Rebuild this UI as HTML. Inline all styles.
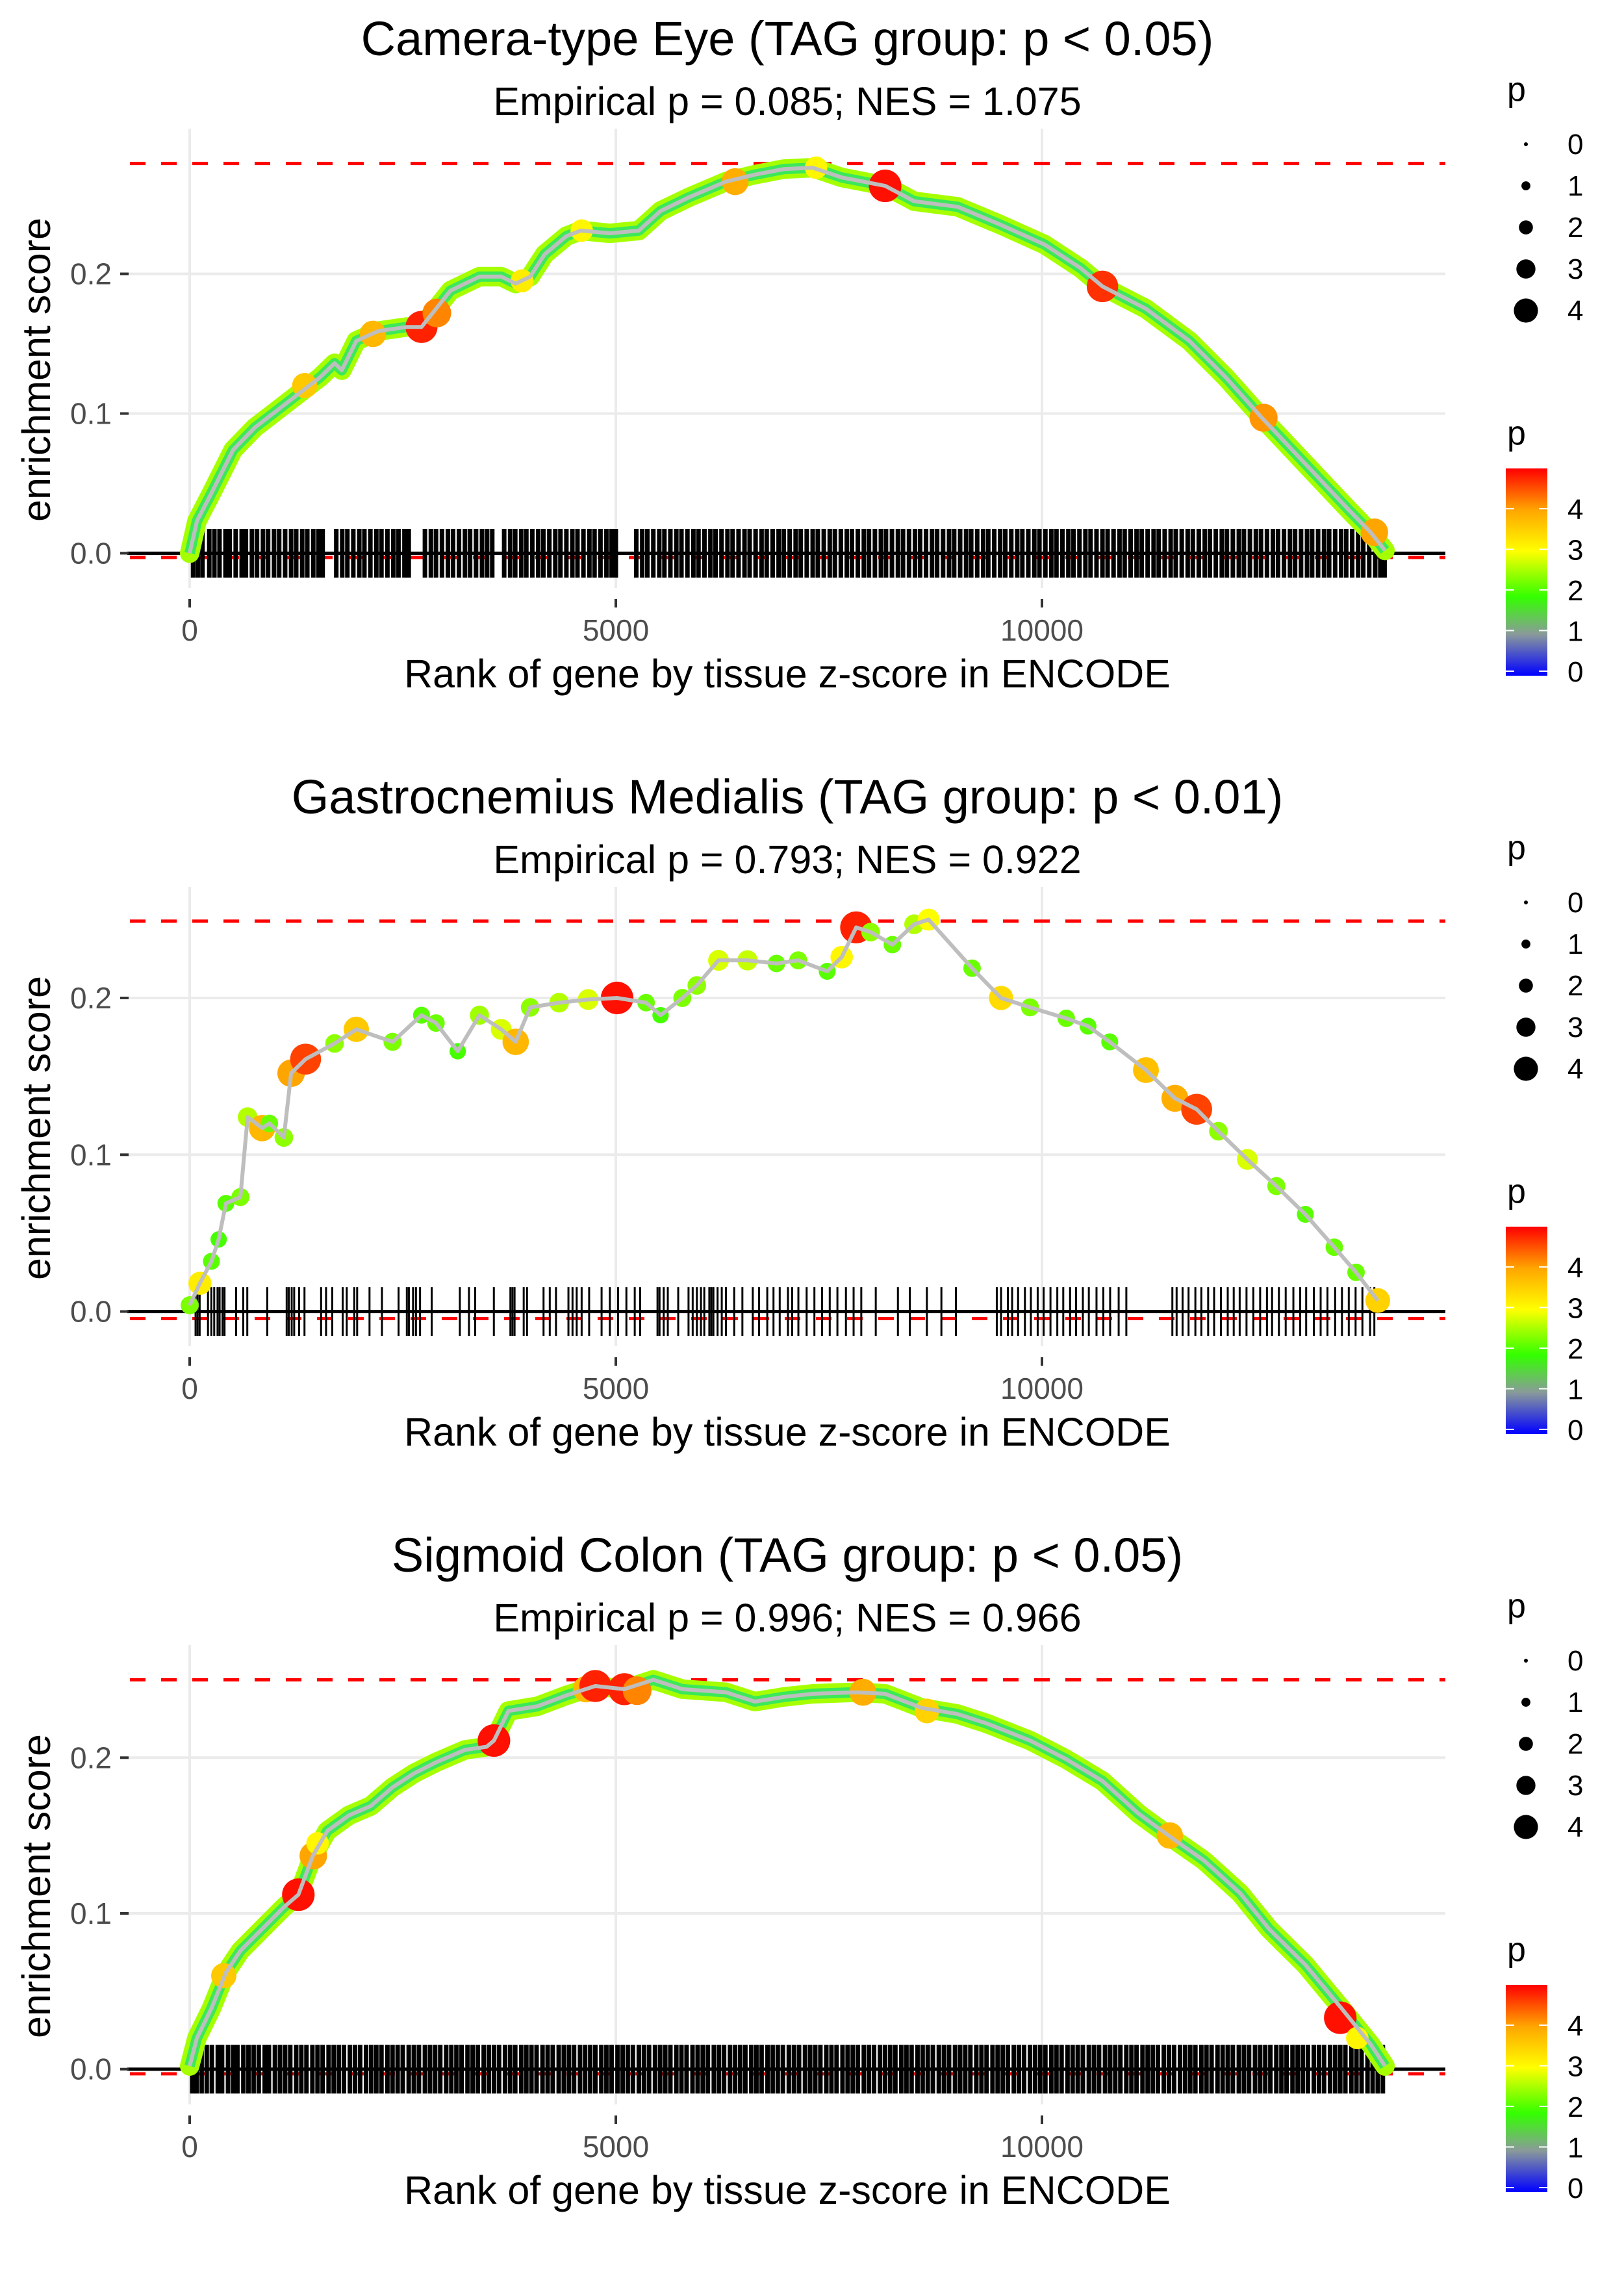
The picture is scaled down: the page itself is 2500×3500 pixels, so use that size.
<!DOCTYPE html>
<html><head><meta charset="utf-8"><title>Enrichment plots</title>
<style>html,body{margin:0;padding:0;background:#fff}svg{display:block}text{font-family:"Liberation Sans",sans-serif}</style>
</head><body>
<svg id="chart" xmlns="http://www.w3.org/2000/svg" width="2500" height="3500" viewBox="0 0 2500 3500">
<rect x="0" y="0" width="2500" height="3500" fill="#fff"/>
</svg>
<script>
// ---- shared axis data ----
const xTicks = [0, 5000, 10000];
const yTicks = [0, 0.1, 0.2];
const yTickLabels = ["0.0", "0.1", "0.2"];
const legendP = [0, 1, 2, 3, 4];

// ---- panel titles ----
const titles = ["Camera-type Eye (TAG group: p < 0.05)", "Gastrocnemius Medialis (TAG group: p < 0.01)", "Sigmoid Colon (TAG group: p < 0.05)"];
const subtitles = ["Empirical p = 0.085; NES = 1.075", "Empirical p = 0.793; NES = 0.922", "Empirical p = 0.996; NES = 0.966"];
const esMax = [0.279, 0.249, 0.250];
const esMin = [-0.003, -0.0045, -0.003];

// ---- panel 1 ----
const p1Rank = [0,85,255,510,765,1020,1275,1530,1700,1785,1955,2210,2550,2720,2890,3060,3400,3655,3825,3995,4165,4420,4590,4930,5270,5525,5865,6290,6630,6970,7310,7650,7990,8160,8500,9010,9520,10030,10455,10710,11220,11730,12155,12580,13090,13600,13855,14025];
const p1ES = [0,0.023,0.043,0.074,0.09,0.102,0.114,0.126,0.136,0.131,0.152,0.159,0.162,0.162,0.175,0.188,0.198,0.198,0.193,0.198,0.214,0.227,0.231,0.229,0.231,0.245,0.255,0.266,0.271,0.275,0.276,0.269,0.265,0.263,0.252,0.248,0.235,0.221,0.204,0.191,0.175,0.152,0.126,0.097,0.064,0.031,0.015,0.002];
const p1HiRank = [1350,2150,2720,2900,3900,4600,6400,7350,8160,10710,12600,13900];
const p1HiES = [0.12,0.157,0.162,0.172,0.195,0.231,0.266,0.276,0.263,0.191,0.097,0.015];
const p1HiP = [3.6,3.8,4.8,4.2,3.2,3.1,3.9,3.1,4.9,4.7,4.1,4.0];
const p1Rug = [40,95,150,230,290,350,420,470,540,610,660,730,790,860,920,990,1050,1120,1190,1250,1320,1380,1450,1510,1560,1720,1790,1850,1920,1990,2050,2120,2190,2250,2320,2390,2450,2520,2570,2760,2830,2890,2960,3030,3090,3160,3230,3290,3360,3430,3490,3550,3690,3760,3820,3890,3950,4020,4090,4150,4220,4290,4350,4420,4490,4550,4620,4690,4750,4820,4890,4950,5000,5240,5310,5370,5440,5510,5570,5640,5710,5770,5840,5910,5970,6040,6110,6170,6240,6310,6370,6440,6510,6570,6640,6710,6770,6840,6910,6970,7040,7110,7170,7240,7310,7370,7440,7510,7570,7640,7710,7770,7840,7910,7970,8040,8110,8170,8240,8310,8370,8440,8510,8570,8640,8710,8770,8840,8910,8970,9040,9110,9170,9240,9310,9370,9440,9510,9570,9640,9710,9770,9840,9910,9970,10040,10110,10170,10240,10310,10370,10440,10510,10570,10640,10710,10770,10840,10910,10970,11040,11110,11170,11240,11310,11370,11440,11510,11570,11640,11710,11770,11840,11910,11970,12040,12110,12170,12240,12310,12370,12440,12510,12570,12640,12710,12770,12840,12910,12970,13040,13110,13170,13240,13310,13370,13440,13510,13570,13640,13710,13770,13840,13910,13970,14020];

// ---- panel 2 ----
const p2Rank = [0,120,255,340,425,595,680,850,935,1105,1190,1360,1700,1955,2380,2720,2890,3145,3400,3655,3825,3995,4335,4675,5015,5355,5525,5780,5950,6205,6545,6885,7140,7480,7650,7820,7990,8245,8500,8670,9180,9520,9860,10285,10540,10795,11220,11560,11815,12070,12410,12750,13090,13430,13685,13940];
const p2ES = [0.004,0.018,0.032,0.046,0.069,0.073,0.124,0.117,0.12,0.111,0.152,0.161,0.171,0.18,0.172,0.189,0.184,0.166,0.189,0.18,0.172,0.194,0.197,0.199,0.2,0.197,0.189,0.2,0.208,0.224,0.224,0.222,0.224,0.217,0.226,0.245,0.242,0.234,0.247,0.25,0.219,0.2,0.194,0.187,0.182,0.172,0.154,0.136,0.129,0.115,0.097,0.08,0.062,0.041,0.025,0.007];
const p2P = [2.3,3.2,2.1,2.0,2.1,2.3,2.6,3.8,2.2,2.4,4.0,4.6,2.4,3.6,2.3,2.1,2.2,2.0,2.5,2.8,3.8,2.4,2.6,2.8,4.9,2.2,2.0,2.3,2.4,2.8,2.7,2.2,2.3,2.1,3.1,4.8,2.4,2.2,2.6,3.0,2.2,3.4,2.3,2.2,2.1,2.1,3.7,3.9,4.6,2.4,2.8,2.3,2.1,2.2,2.2,3.5];
const p2Rug = [69,93,117,215,254,288,327,351,385,409,545,628,676,910,1138,1163,1197,1226,1284,1347,1542,1600,1673,1795,1843,1931,1965,2110,2256,2451,2548,2572,2621,2655,2703,2840,3170,3277,3350,3569,3763,3787,3812,3919,3958,4152,4225,4298,4444,4492,4541,4599,4687,4833,4930,5027,5124,5222,5285,5489,5513,5562,5610,5732,5853,5902,5951,5999,6038,6097,6121,6145,6194,6243,6292,6389,6485,6607,6680,6777,6850,6923,7020,7069,7142,7239,7330,7420,7510,7600,7700,7790,7880,8050,8310,8450,8650,8820,8990,9470,9520,9600,9650,9720,9800,9870,9950,10020,10100,10180,10250,10330,10400,10480,10550,10640,10720,10800,10900,10990,11530,11580,11650,11720,11800,11870,11950,12020,12100,12180,12250,12320,12400,12480,12560,12640,12700,12780,12860,12950,13030,13100,13190,13270,13350,13440,13520,13600,13680,13760,13850,13900];

// ---- panel 3 ----
const p3Rank = [0,85,255,425,595,850,1105,1275,1445,1615,1870,2125,2380,2635,2890,3230,3485,3570,3740,4080,4420,4760,5100,5440,5780,6290,6630,6970,7310,7820,8160,8585,9010,9350,9860,10285,10710,11135,11560,11900,12325,12665,13090,13515,13855,14025];
const p3ES = [0.002,0.02,0.039,0.062,0.076,0.09,0.104,0.112,0.137,0.153,0.163,0.169,0.181,0.19,0.197,0.205,0.207,0.211,0.23,0.233,0.24,0.246,0.244,0.25,0.244,0.242,0.236,0.239,0.241,0.242,0.241,0.232,0.228,0.222,0.211,0.199,0.185,0.164,0.147,0.134,0.113,0.09,0.067,0.039,0.016,0.002];
const p3HiRank = [400,1275,1450,1500,3570,4650,4760,5100,5250,7900,8650,11500,13500,13700];
const p3HiES = [0.06,0.112,0.137,0.145,0.211,0.244,0.246,0.244,0.243,0.242,0.23,0.15,0.033,0.02];
const p3HiP = [3.6,4.9,4.0,3.1,4.9,3.8,4.8,4.8,4.2,3.9,3.5,3.8,4.9,3.1];
const p3Rug = [30,80,140,200,260,330,380,450,510,560,630,690,750,810,880,930,1000,1060,1120,1180,1250,1310,1370,1440,1500,1560,1630,1690,1750,1810,1880,1940,2000,2070,2130,2190,2250,2320,2380,2440,2500,2570,2630,2690,2760,2820,2880,2940,3010,3070,3130,3190,3260,3320,3380,3450,3510,3570,3630,3700,3760,3820,3890,3950,4010,4070,4140,4200,4260,4330,4390,4450,4510,4580,4640,4700,4760,4830,4890,4950,5020,5080,5140,5200,5270,5330,5390,5460,5520,5580,5640,5710,5770,5830,5900,5960,6020,6080,6150,6210,6270,6340,6400,6460,6520,6590,6650,6710,6780,6840,6900,6960,7030,7090,7150,7220,7280,7340,7400,7470,7530,7590,7660,7720,7780,7840,7910,7970,8030,8100,8160,8220,8280,8350,8410,8470,8540,8600,8660,8720,8790,8850,8910,8980,9040,9100,9160,9230,9290,9350,9420,9480,9540,9600,9670,9730,9790,9860,9920,9980,10040,10110,10170,10230,10300,10360,10420,10480,10550,10610,10670,10740,10800,10860,10920,10990,11050,11110,11180,11240,11300,11360,11430,11490,11550,11620,11680,11740,11800,11870,11930,11990,12060,12120,12180,12240,12310,12370,12430,12500,12560,12620,12680,12750,12810,12870,12940,13000,13060,13120,13190,13250,13310,13380,13440,13500,13560,13630,13690,13750,13820,13880,13940,14000];

// ---- layout (not data) ----
const NS = "http://www.w3.org/2000/svg";
const svg = document.getElementById("chart");
const panelLeft = 196, panelRight = 2225;
const zeroY = [851.5, 2018.6, 3184.7];
const per01 = [215, 241.3, 239.7];
const offY = [0, 1167, 2334];
function xScale(r) { return 292 + r * 0.1312; }
function yScale(i, v) { return zeroY[i] - v / 0.1 * per01[i]; }
function rScale(p) { return 3 + 3.9 * p; }
function rPlot(p) { return 4 + 4.3 * p; }
const stops = [[0,[0,0,255]],[1.0,[138,154,154]],[1.9,[51,255,0]],[2.5,[160,255,0]],[3.0,[255,255,0]],[4.0,[255,165,0]],[5.0,[255,0,0]]];
function pColor(p) {
  if (p <= stops[0][0]) return "rgb(0,0,255)";
  for (let k = 1; k < stops.length; k++) {
    if (p <= stops[k][0]) {
      const a = stops[k-1], b = stops[k], t = (p - a[0]) / (b[0] - a[0]);
      const c = a[1].map((v, j) => Math.round(v + (b[1][j] - v) * t));
      return "rgb(" + c.join(",") + ")";
    }
  }
  return "rgb(255,0,0)";
}
function mk(tag, attrs, parent) {
  const el = document.createElementNS(NS, tag);
  for (const k in attrs) el.setAttribute(k, attrs[k]);
  (parent || svg).appendChild(el);
  return el;
}
function txt(s, attrs, parent) { const t = mk("text", attrs, parent); t.textContent = s; return t; }

const curves = [
  {rank: p1Rank, es: p1ES, band: true, hiR: p1HiRank, hiE: p1HiES, hiP: p1HiP, rug: p1Rug},
  {rank: p2Rank, es: p2ES, band: false, pts: p2P, rug: p2Rug},
  {rank: p3Rank, es: p3ES, band: true, hiR: p3HiRank, hiE: p3HiES, hiP: p3HiP, rug: p3Rug}
];

for (let i = 0; i < 3; i++) {
  const o = offY[i];
  const g = mk("g", {});
  
  
  const top = 198 + o, bot = 905 + o;
  xTicks.forEach(v => {
    const l = mk("line", {x1: xScale(v), x2: xScale(v), y1: top, y2: bot, stroke: "#ebebeb", "stroke-width": 4}, g);
    
    
  });
  yTicks.forEach(v => {
    const l = mk("line", {x1: panelLeft, x2: panelRight, y1: yScale(i, v), y2: yScale(i, v), stroke: "#ebebeb", "stroke-width": 4}, g);
    
    
  });
  [esMax[i], esMin[i]].forEach((v, k) => {
    const l = mk("line", {x1: 200, x2: panelRight, y1: yScale(i, v), y2: yScale(i, v), stroke: "#ff0000", "stroke-width": 5, "stroke-dasharray": "24 24"}, g);
    
    
  });
  const zl = mk("line", {x1: panelLeft, x2: panelRight, y1: zeroY[i], y2: zeroY[i], stroke: "#000", "stroke-width": 5}, g);
  
  
  const c = curves[i];
  const rugW = c.band ? 7 : 3;
  c.rug.forEach(r => {
    const l = mk("line", {x1: xScale(r), x2: xScale(r), y1: zeroY[i] - 37.5, y2: zeroY[i] + 37.5, stroke: "#000", "stroke-width": rugW}, g);
    
    
  });
  const ptsStr = c.rank.map((r, k) => xScale(r) + "," + yScale(i, c.es[k])).join(" ");
  if (c.band) {
    const b1 = mk("polyline", {points: ptsStr, fill: "none", stroke: "#a6ff00", "stroke-width": 30, "stroke-linejoin": "round", "stroke-linecap": "round"}, g);
    
    
    const b2 = mk("polyline", {points: ptsStr, fill: "none", stroke: "#3be85a", "stroke-width": 16, "stroke-linejoin": "round"}, g);
    
    
    c.hiR.forEach((r, k) => {
      const d = mk("circle", {cx: xScale(r), cy: yScale(i, c.hiE[k]), r: rPlot(c.hiP[k]), fill: pColor(c.hiP[k])}, g);
      
      
    });
  } else {
    c.rank.forEach((r, k) => {
      const d = mk("circle", {cx: xScale(r), cy: yScale(i, c.es[k]), r: rPlot(c.pts[k]), fill: pColor(c.pts[k])}, g);
      
      
    });
  }
  const ln = mk("polyline", {points: ptsStr, fill: "none", stroke: "#bebebe", "stroke-width": 6, "stroke-linejoin": "round"}, g);
  
  
  xTicks.forEach(v => {
    const t = mk("line", {x1: xScale(v), x2: xScale(v), y1: 922 + o, y2: 935 + o, stroke: "#333", "stroke-width": 4}, g);
    
    
    const l = txt(String(v), {x: xScale(v), y: 986 + o, "font-size": 46, fill: "#4d4d4d", "text-anchor": "middle"}, g);
    
    
  });
  yTicks.forEach((v, k) => {
    const t = mk("line", {x1: 185, x2: 198, y1: yScale(i, v), y2: yScale(i, v), stroke: "#333", "stroke-width": 4}, g);
    
    
    const l = txt(yTickLabels[k], {x: 172, y: yScale(i, v) + 16, "font-size": 46, fill: "#4d4d4d", "text-anchor": "end"}, g);
    
    
  });
  const xt = txt("Rank of gene by tissue z-score in ENCODE", {x: 1212, y: 1058 + o, "font-size": 61, fill: "#000", "text-anchor": "middle"}, g);
  
  
  const yt = txt("enrichment score", {x: 0, y: 0, "font-size": 61, fill: "#000", "text-anchor": "middle", transform: "translate(77," + (569 + o) + ") rotate(-90)"}, g);
  
  
  const tt = txt(titles[i], {x: 1212, y: 85 + o, "font-size": 74, fill: "#000", "text-anchor": "middle"}, g);
  
  
  const st = txt(subtitles[i], {x: 1212, y: 177 + o, "font-size": 61, fill: "#000", "text-anchor": "middle"}, g);
  
  

  const lg = mk("g", {}, g);
  
  
  const lt = txt("p", {x: 2320, y: 155 + o, "font-size": 52, fill: "#000"}, lg);
  
  
  legendP.forEach((p, k) => {
    const cy = 222 + k * 64 + o;
    const d = mk("circle", {cx: 2349, cy: cy, r: rScale(p), fill: "#000"}, lg);
    
    
    const l = txt(String(p), {x: 2413, y: cy + 15, "font-size": 44, fill: "#000"}, lg);
    
    
  });
  const cg = mk("g", {}, g);
  
  
  const ct = txt("p", {x: 2320, y: 684 + o, "font-size": 52, fill: "#000"}, cg);
  
  
  const gid = "grad" + i;
  const defs = mk("defs", {}, cg);
  const lgr = mk("linearGradient", {id: gid, x1: 0, y1: 1, x2: 0, y2: 0}, defs);
  stops.forEach(s => mk("stop", {offset: (s[0] / 5), "stop-color": "rgb(" + s[1].join(",") + ")"}, lgr));
  const barTop = 721 + o, barBot = 1040 + o;
  const bar = mk("rect", {x: 2318, y: barTop, width: 64, height: barBot - barTop, fill: "url(#" + gid + ")"}, cg);
  
  
  legendP.forEach(p => {
    const y = 1033 - p * 62.5 + o;
    [[2318, 2331], [2369, 2382]].forEach(xx => {
      const t = mk("line", {x1: xx[0], x2: xx[1], y1: y, y2: y, stroke: "#fff", "stroke-width": 2}, cg);
      
      
    });
    const l = txt(String(p), {x: 2413, y: y + 16, "font-size": 44, fill: "#000"}, cg);
    
    
  });
}
</script>
</body></html>
